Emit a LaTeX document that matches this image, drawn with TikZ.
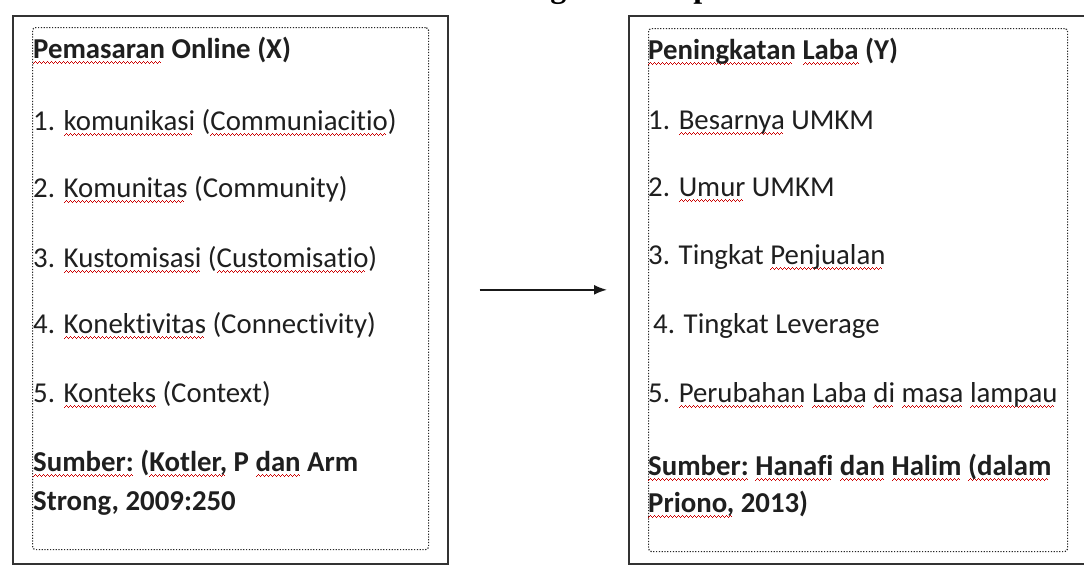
\documentclass[tikz,border=0pt]{standalone}
\usepackage{fontspec}
\setmainfont{Carlito}[Ligatures=NoCommon]
\newfontfamily\titlefont{Liberation Serif}
\usetikzlibrary{arrows.meta}
\newcommand\wvseg{\hbox{\rule[0pt]{1pt}{1pt}\rule[1pt]{1pt}{1pt}\rule[2pt]{1pt}{1pt}\rule[1pt]{1pt}{1pt}}}
\newcommand\spl[1]{\setbox0\hbox{#1}\rlap{\raisebox{-6pt}{\color{red!80!black}\hbox to \wd0{\leaders\wvseg\hfill}}}\box0\relax}
\tikzset{
  outerbox/.style={draw=black!80, line width=1.6pt, inner sep=0pt, anchor=north west},
  innerbox/.style={draw=black!85, line width=1.2pt, dash pattern=on 1.2pt off 1.6pt, rounded corners=3pt, inner sep=0pt, anchor=north west},
  txt/.style={anchor=base west, inner sep=0pt, text=black!88, font=\fontsize{28.8}{36}\selectfont},
  arr/.style={line width=1.8pt, draw=black!90, -{Latex[length=13pt,width=10pt]}}
}
\begin{document}
\begin{tikzpicture}[x=1pt,y=-1pt]
\useasboundingbox (0,0) rectangle (1084,570);
\fill[white] (0,0) rectangle (1084,570);
% clipped title (only descenders visible)
\node[anchor=base west, inner sep=0pt, font=\titlefont\bfseries\fontsize{32}{38}\selectfont] (title) at (463,-2) {Kerangka Konseptual};
% boxes
\node[outerbox, minimum width=435pt, minimum height=548pt] (lb) at (12,15) {};
\node[innerbox, minimum width=396pt, minimum height=522pt] (li) at (32,27) {};
\node[outerbox, minimum width=470pt, minimum height=548pt] (rb) at (628,15) {};
\node[innerbox, minimum width=419pt, minimum height=523pt] (ri) at (648,28) {};
% left texts
\node[txt] (lt) at (33,58) {\textbf{\spl{Pemasaran} Online (X)}};
\node[txt] (l1) at (33,130) {1. \spl{komunikasi} (\spl{Communiacitio})};
\node[txt] (l2) at (33,197) {2. \spl{Komunitas} (Community)};
\node[txt] (l3) at (33,267) {3. \spl{Kustomisasi} (\spl{Customisatio})};
\node[txt] (l4) at (33,333) {4. \spl{Konektivitas} (Connectivity)};
\node[txt] (l5) at (33,402) {5. \spl{Konteks} (Context)};
\node[txt] (ls1) at (33,471) {\textbf{\spl{Sumber:} (\spl{Kotler,} P \spl{dan} Arm}};
\node[txt] (ls2) at (33,510) {\textbf{Strong, 2009:250}};
% right texts
\node[txt] (rt) at (648,59) {\textbf{\spl{Peningkatan} \spl{Laba} (Y)}};
\node[txt] (r1) at (648,129) {1. \spl{Besarnya} UMKM};
\node[txt] (r2) at (648,196) {2. \spl{Umur} UMKM};
\node[txt] (r3) at (648,264) {3. Tingkat \spl{Penjualan}};
\node[txt] (r4) at (653,333) {4. Tingkat Leverage};
\node[txt] (r5) at (648,402) {5. \spl{Perubahan} \spl{Laba} \spl{di} \spl{masa} \spl{lampau}};
\node[txt] (rs1) at (648,475) {\textbf{\spl{Sumber:} \spl{Hanafi} \spl{dan} \spl{Halim} \spl{(dalam}}};
\node[txt] (rs2) at (648,512) {\textbf{\spl{Priono,} 2013)}};
% arrow
\draw[arr] ([xshift=31pt]lb.east) -- ([xshift=-21pt]rb.west);
\end{tikzpicture}
\end{document}
